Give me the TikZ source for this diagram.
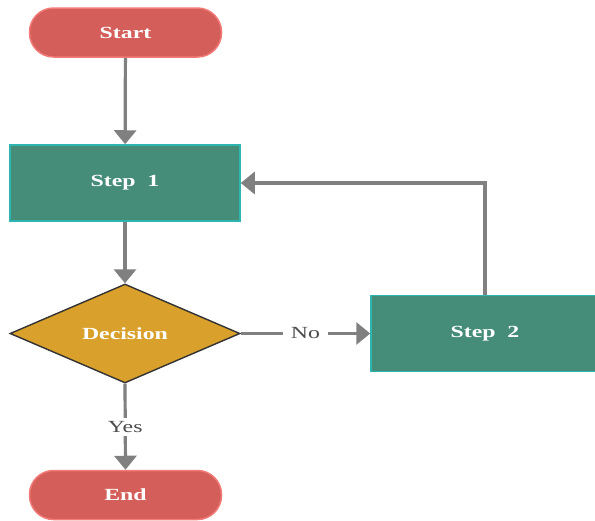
\documentclass[tikz,border=0pt]{standalone}
\usepackage{fontspec}
\setmainfont{Liberation Serif}[FakeStretch=1.4]
\usetikzlibrary{shapes.geometric,arrows.meta}
\definecolor{pillred}{HTML}{D45E59}
\definecolor{pillline}{HTML}{F27B78}
\definecolor{stepgreen}{HTML}{458C79}
\definecolor{stepline}{HTML}{2FB5AF}
\definecolor{decgold}{HTML}{D9A02B}
\definecolor{flowgray}{HTML}{808080}
\begin{document}
\begin{tikzpicture}[x=1pt,y=-1pt]
\tikzstyle{term} = [rectangle,rounded corners=24pt,fill=pillred,draw=pillline,line width=1.5pt,minimum width=192pt,minimum height=49pt,text=white,font=\fontsize{17}{20}\selectfont\bfseries] %start/end
\tikzstyle{stepbox} = [rectangle,fill=stepgreen,draw=stepline,line width=1.5pt,minimum height=76pt,text=white,font=\fontsize{17}{20}\selectfont\bfseries] %process
\tikzstyle{dec} = [diamond,aspect=2.3,inner sep=0pt,fill=decgold,draw=black!80,line width=1.4pt,minimum width=230pt,minimum height=99pt,text=white,font=\fontsize{17}{20}\selectfont\bfseries] %decision
\tikzstyle{fl} = [-{Triangle[width=22pt,length=14pt]},draw=flowgray,line width=3.2pt] %flow
\tikzstyle{lbl} = [fill=white,text=black!70,inner xsep=8pt,font=\fontsize{17}{20}\selectfont] %edge label
\useasboundingbox (0,0) rectangle (595,520);
\node[term](start)at(125.5,32.5){Start};
\node[stepbox,minimum width=230pt](s1)at(125,183){Step\ \ 1};
\node[dec](dc)at(125,333.5){Decision};
\node[stepbox,minimum width=228pt](s2)at(485,333.5){Step\ \ 2};
\node[term](end)at(125.5,495){End};
\draw[fl](start)--(s1);
\draw[fl](s1)--(dc);
\draw[fl](dc.east)--node[lbl]{No}(s2.west);
\draw[fl](dc.south)--node[lbl]{Yes}(end.north);
\draw[fl](s2.north)|-(s1.east);
\end{tikzpicture}
\end{document}
